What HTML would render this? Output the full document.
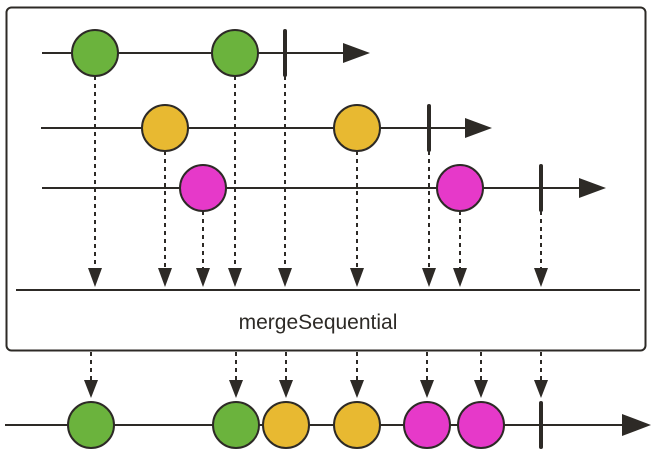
<!DOCTYPE html>
<html><head><style>body{margin:0;background:#fff}svg{display:block}</style></head><body>
<svg width="655" height="454" viewBox="0 0 655 454" xmlns="http://www.w3.org/2000/svg">
<defs>
<marker id="a" markerWidth="10" markerHeight="10" refX="5" refY="9" orient="auto" markerUnits="userSpaceOnUse"></marker>
</defs>
<rect x="6.5" y="7.5" width="639" height="343" rx="5" fill="#fff" stroke="#2d2a26" stroke-width="2"/>
<g stroke="#2d2a26" stroke-width="2" fill="none">
<line x1="42" y1="53" x2="348" y2="53"/>
<line x1="41" y1="128" x2="470" y2="128"/>
<line x1="42" y1="188" x2="582" y2="188"/>
<line x1="16" y1="290" x2="640" y2="290"/>
<line x1="5" y1="425" x2="625" y2="425"/>
</g>
<g fill="#2d2a26">
<polygon points="343,43 370,53 343,63"/>
<polygon points="465,118 492,128 465,138"/>
<polygon points="579,178 606,188 579,198"/>
<polygon points="622,414 651,425 622,436"/>
</g>
<g stroke="#2d2a26" stroke-width="2" stroke-dasharray="4,4" fill="none">
<line x1="95" y1="76" x2="95" y2="272"/>
<line x1="235" y1="76" x2="235" y2="272"/>
<line x1="285" y1="76" x2="285" y2="272"/>
<line x1="165" y1="151" x2="165" y2="272"/>
<line x1="357" y1="151" x2="357" y2="272"/>
<line x1="429" y1="151" x2="429" y2="272"/>
<line x1="203" y1="211" x2="203" y2="272"/>
<line x1="460" y1="211" x2="460" y2="272"/>
<line x1="541" y1="211" x2="541" y2="272"/>
<line x1="91" y1="352" x2="91" y2="382"/>
<line x1="236" y1="352" x2="236" y2="382"/>
<line x1="286" y1="352" x2="286" y2="382"/>
<line x1="357" y1="352" x2="357" y2="382"/>
<line x1="427" y1="352" x2="427" y2="382"/>
<line x1="481" y1="352" x2="481" y2="382"/>
<line x1="541" y1="352" x2="541" y2="382"/>
</g>
<g fill="#2d2a26">
<polygon points="88,268 102,268 95,287"/>
<polygon points="158,268 172,268 165,287"/>
<polygon points="196,268 210,268 203,287"/>
<polygon points="228,268 242,268 235,287"/>
<polygon points="278,268 292,268 285,287"/>
<polygon points="350,268 364,268 357,287"/>
<polygon points="422,268 436,268 429,287"/>
<polygon points="453,268 467,268 460,287"/>
<polygon points="534,268 548,268 541,287"/>
<polygon points="84,380 98,380 91,398"/>
<polygon points="229,380 243,380 236,398"/>
<polygon points="279,380 293,380 286,398"/>
<polygon points="350,380 364,380 357,398"/>
<polygon points="420,380 434,380 427,398"/>
<polygon points="474,380 488,380 481,398"/>
<polygon points="534,380 548,380 541,398"/>
</g>
<g stroke="#2d2a26" stroke-width="2">
<circle cx="95" cy="53" r="23" fill="#6bb33d"/>
<circle cx="235" cy="53" r="23" fill="#6bb33d"/>
<circle cx="165" cy="128" r="23" fill="#e8b931"/>
<circle cx="357" cy="128" r="23" fill="#e8b931"/>
<circle cx="203" cy="188" r="23" fill="#e639c9"/>
<circle cx="460" cy="188" r="23" fill="#e639c9"/>
<circle cx="91" cy="425" r="23" fill="#6bb33d"/>
<circle cx="236" cy="425" r="23" fill="#6bb33d"/>
<circle cx="286" cy="425" r="23" fill="#e8b931"/>
<circle cx="357" cy="425" r="23" fill="#e8b931"/>
<circle cx="427" cy="425" r="23" fill="#e639c9"/>
<circle cx="481" cy="425" r="23" fill="#e639c9"/>
</g>
<g stroke="#2d2a26" stroke-width="4" stroke-linecap="round">
<line x1="285" y1="31" x2="285" y2="75"/>
<line x1="429" y1="106" x2="429" y2="150"/>
<line x1="541" y1="166" x2="541" y2="210"/>
<line x1="541" y1="403" x2="541" y2="447"/>
</g>
<text x="318" y="329" text-anchor="middle" font-family="Liberation Sans, sans-serif" font-size="21" fill="#2d2a26">mergeSequential</text>
</svg>
</body></html>
